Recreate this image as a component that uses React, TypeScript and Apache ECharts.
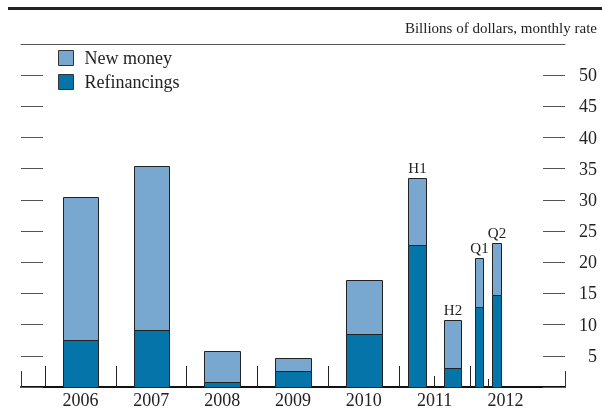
import React, { useEffect, useRef } from "react";
import * as echarts from "echarts";

const periodStart = [2006, 2007, 2008, 2009, 2010, 2011, 2011.5, 2012, 2012.25];
const periodEnd = [2007, 2008, 2009, 2010, 2011, 2011.5, 2012, 2012.25, 2012.5];
const barLabels = ["", "", "", "", "", "H1", "H2", "Q1", "Q2"];
const refinancings = [7.6, 9.2, 0.8, 2.6, 8.5, 22.8, 3.0, 12.8, 14.7];
const newMoney = [22.8, 26.2, 5.0, 2.0, 8.6, 10.7, 7.8, 7.9, 8.4];
const yearCenters = [2006.5, 2007.5, 2008.5, 2009.5, 2010.5, 2011.5, 2012.5];
const yearBoundaries = [2006, 2007, 2008, 2009, 2010, 2011, 2012];
const halfBoundaries = [2011.5];
const quarterBoundaries = [2012.25];
const X_MIN = 2005.66;
const X_MAX = 2013.34;

const FONT = '"Liberation Serif", "Times New Roman", serif';
const LIGHT = "#78a8cf";
const DARK = "#0474a9";

function makeRender(color: string) {
  return (params: any, api: any) => {
    const s = api.value(0);
    const e = api.value(1);
    const base = api.value(2);
    const top = api.value(3);
    const w = e - s;
    const p0 = api.coord([s + w * 0.25, top]);
    const p1 = api.coord([e - w * 0.25, base]);
    const x0 = Math.round(p0[0]) + 0.5;
    const x1 = Math.round(p1[0]) + 0.5;
    const y0 = Math.round(p0[1]) + 0.5;
    const y1 = Math.round(p1[1]) + 0.5;
    const children: any[] = [
      {
        type: "rect",
        shape: { x: x0, y: y0, width: x1 - x0, height: y1 - y0 },
        style: { fill: color, stroke: "#222", lineWidth: 1 },
      },
    ];
    const label = barLabels[params.dataIndex];
    if (color === LIGHT && label) {
      children.push({
        type: "text",
        x: (x0 + x1) / 2,
        y: y0 - 3,
        style: {
          text: label,
          fill: "#222",
          font: `15px ${FONT}`,
          textAlign: "center",
          textVerticalAlign: "bottom",
        },
      });
    }
    return { type: "group", children };
  };
}

export default function App() {
  const ref = useRef<HTMLDivElement>(null);
  useEffect(() => {
    document.body.style.margin = "0";
    const chart = echarts.init(ref.current!, undefined, { renderer: "svg" });
    const refiData = periodStart.map((s, i) => [s, periodEnd[i], 0, refinancings[i]]);
    const newData = periodStart.map((s, i) => [
      s,
      periodEnd[i],
      refinancings[i],
      refinancings[i] + newMoney[i],
    ]);
    const hiddenAxis = { show: false };
    chart.setOption({
      animation: false,
      textStyle: { fontFamily: FONT },
      title: {
        text: "Billions of dollars, monthly rate",
        right: 5,
        top: 20,
        padding: 0,
        textStyle: { fontFamily: FONT, fontSize: 15, fontWeight: "normal", color: "#222" },
      },
      graphic: [
        {
          type: "rect",
          left: 8,
          top: 7,
          shape: { width: 594, height: 3 },
          style: { fill: "#222" },
        },
      ],
      legend: {
        orient: "vertical",
        left: 58,
        top: 49,
        padding: 0,
        itemWidth: 15,
        itemHeight: 15,
        itemGap: 6,
        icon: "rect",
        data: ["New money", "Refinancings"],
        itemStyle: { borderColor: "#333", borderWidth: 1 },
        textStyle: { fontFamily: FONT, fontSize: 18, color: "#222", padding: [0, 0, 0, 6] },
      },
      grid: { left: 21, right: 37, top: 44, bottom: 24 },
      xAxis: [
        {
          type: "value",
          min: X_MIN,
          max: X_MAX,
          position: "bottom",
          splitLine: { show: false },
          axisLine: { show: true, lineStyle: { color: "#111", width: 2 } },
          axisTick: {
            show: true,
            inside: true,
            length: 21,
            customValues: yearBoundaries,
            lineStyle: { color: "#222", width: 1 },
          },
          axisLabel: {
            show: true,
            customValues: yearCenters,
            formatter: (v: number) => String(Math.floor(v)),
            fontFamily: FONT,
            fontSize: 18,
            color: "#222",
            margin: 4,
          },
        },
        {
          type: "value",
          min: X_MIN,
          max: X_MAX,
          position: "bottom",
          splitLine: hiddenAxis,
          axisLine: hiddenAxis,
          axisLabel: hiddenAxis,
          axisTick: {
            show: true,
            inside: true,
            length: 11,
            customValues: halfBoundaries,
            lineStyle: { color: "#222", width: 1 },
          },
        },
        {
          type: "value",
          min: X_MIN,
          max: X_MAX,
          position: "bottom",
          splitLine: hiddenAxis,
          axisLine: hiddenAxis,
          axisLabel: hiddenAxis,
          axisTick: {
            show: true,
            inside: true,
            length: 8,
            customValues: quarterBoundaries,
            lineStyle: { color: "#222", width: 1 },
          },
        },
        {
          type: "value",
          min: X_MIN,
          max: X_MAX,
          position: "bottom",
          splitLine: hiddenAxis,
          axisLine: hiddenAxis,
          axisLabel: hiddenAxis,
          axisTick: {
            show: true,
            inside: true,
            length: 16,
            customValues: [X_MIN, X_MAX],
            lineStyle: { color: "#333", width: 1 },
          },
        },
        {
          type: "value",
          min: X_MIN,
          max: X_MAX,
          position: "top",
          splitLine: hiddenAxis,
          axisLabel: hiddenAxis,
          axisTick: hiddenAxis,
          axisLine: { show: true, lineStyle: { color: "#555", width: 1 } },
        },
      ],
      yAxis: [
        {
          type: "value",
          min: 0,
          max: 55,
          interval: 5,
          position: "right",
          splitLine: hiddenAxis,
          axisLine: hiddenAxis,
          axisTick: {
            show: true,
            inside: true,
            length: 22,
            lineStyle: { color: "#555", width: 1 },
          },
          axisLabel: {
            show: true,
            inside: false,
            align: "right",
            margin: 32,
            fontFamily: FONT,
            fontSize: 18,
            color: "#222",
            formatter: (v: number) => (v === 0 || v === 55 ? "" : String(v)),
          },
        },
        {
          type: "value",
          min: 0,
          max: 55,
          interval: 5,
          position: "left",
          splitLine: hiddenAxis,
          axisLine: hiddenAxis,
          axisLabel: hiddenAxis,
          axisTick: {
            show: true,
            inside: true,
            length: 22,
            lineStyle: { color: "#555", width: 1 },
          },
        },
      ],
      series: [
        {
          name: "Refinancings",
          type: "custom",
          xAxisIndex: 0,
          yAxisIndex: 0,
          itemStyle: { color: DARK },
          renderItem: makeRender(DARK),
          encode: { x: [0, 1], y: [2, 3] },
          data: refiData,
          z: 3,
        },
        {
          name: "New money",
          type: "custom",
          xAxisIndex: 0,
          yAxisIndex: 0,
          itemStyle: { color: LIGHT },
          renderItem: makeRender(LIGHT),
          encode: { x: [0, 1], y: [2, 3] },
          data: newData,
          z: 2,
        },
      ],
    });
    return () => chart.dispose();
  }, []);
  return (
    <div
      ref={ref}
      style={{ position: "fixed", left: 0, top: 0, width: 602, height: 411 }}
    />
  );
}
